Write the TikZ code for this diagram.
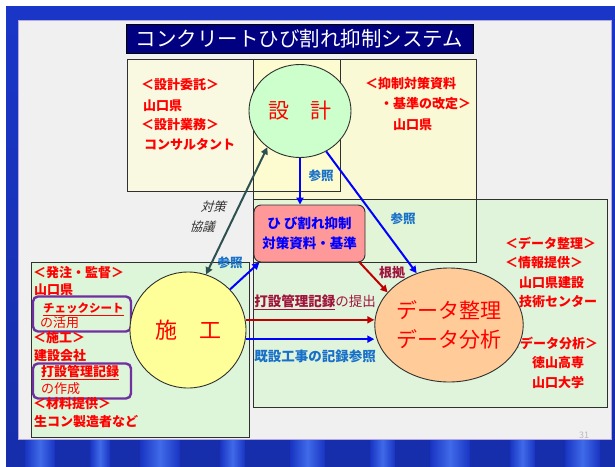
\documentclass[tikz,border=0pt]{standalone}
\usepackage{fontspec}
\setmainfont{Noto Sans CJK JP}
\newfontfamily\slantjp[FakeSlant=0.3]{Noto Sans CJK JP}
\usetikzlibrary{shapes.geometric,arrows.meta}
\definecolor{slidebg}{HTML}{F0F0F0}
\definecolor{frameblue}{HTML}{1A36C8}
\definecolor{framelight}{HTML}{4A7AF8}
\definecolor{navy}{HTML}{000080}
\definecolor{creamA}{HTML}{F9F9E2}
\definecolor{yellowB}{HTML}{FFFFC4}
\definecolor{greenbox}{HTML}{DDF5D8}
\definecolor{circG}{HTML}{CCFFCC}
\definecolor{circY}{HTML}{FFFF99}
\definecolor{circO}{HTML}{FFCC99}
\definecolor{pinkbox}{HTML}{FF9999}
\definecolor{txtred}{HTML}{FF0000}
\definecolor{refblue}{HTML}{1870C8}
\definecolor{darkred}{HTML}{C00000}
\definecolor{labred}{HTML}{A0143C}
\definecolor{slate}{HTML}{2F5050}
\definecolor{purp}{HTML}{7030A0}
\definecolor{edge}{HTML}{303030}
\definecolor{lav}{HTML}{B8A8E0}
\tikzset{
  redtxt/.style={font=\bfseries\fontsize{13}{13}\selectfont, text=txtred, anchor=west, inner sep=0},
  circ/.style={ellipse, draw=edge, line width=0.9pt, inner sep=0, text=txtred},
  reflab/.style={font=\bfseries\fontsize{12.5}{12.5}\selectfont, text=refblue, inner sep=0},
  slantlab/.style={font=\slantjp\fontsize{12.5}{12.5}\selectfont, text=edge, inner sep=0},
  bluearr/.style={draw=blue, line width=2pt, -{Triangle[length=7pt,width=7pt]}},
  redarr/.style={draw=darkred, line width=2pt, -{Triangle[length=7pt,width=7pt]}},
  slatearr/.style={draw=slate, line width=2pt, {Triangle[length=7pt,width=7pt]}-{Triangle[length=7pt,width=7pt]}},
  purpbox/.style={draw=purp, line width=2.4pt, rounded corners=5pt, minimum width=98pt, minimum height=35pt, inner sep=0},
  regionbox/.style={draw=edge, line width=0.8pt}
}
\begin{document}
\begin{tikzpicture}[x=1pt,y=-1pt]
\useasboundingbox (0,0) rectangle (615,466);
% slide frame
\fill[white] (0,0) rectangle (615,466);
\shade[top color=frameblue, bottom color=frameblue!85!black] (6,6) rectangle (615,466);
\foreach \sx/\sw in {25/30,90/20,140/40,220/25,290/35,370/25,430/40,510/25,565/35}{
  \shade[left color=frameblue, right color=frameblue, middle color=framelight, opacity=0.8] (\sx,440) rectangle (\sx+\sw,466);
}
\fill[slidebg] (18,20) rectangle (611,439);
\draw[lav, line width=0.8pt] (18,20) rectangle (611,439);
\node[text=gray!55, font=\fontsize{9}{9}\selectfont, inner sep=0] (pageno) at (584,435) {31};

% title
\node[fill=navy, draw=black, line width=0.8pt, minimum width=347pt, minimum height=29pt, inner sep=0, text=white, font=\fontsize{20.5}{20.5}\selectfont] (title) at (299.5,38.5) {コンクリートひび割れ抑制システム};

% region boxes
\fill[creamA] (127,59) rectangle (340,191);
\fill[yellowB, opacity=0.6] (253,59) rectangle (476,262);
\fill[greenbox, opacity=0.8] (253,199) rectangle (607,407);
\fill[greenbox] (31,262) rectangle (249,437);
\draw[regionbox] (127,59) rectangle (340,191);
\draw[regionbox] (253,59) rectangle (476,262);
\draw[regionbox] (253,199) rectangle (607,407);
\draw[regionbox] (31,262) rectangle (249,437);

% design box texts
\node[redtxt] (a1) at (141,85) {＜設計委託＞};
\node[redtxt] (a2) at (143,106) {山口県};
\node[redtxt] (a3) at (141,125) {＜設計業務＞};
\node[redtxt] (a4) at (144,144) {コンサルタント};
\node[redtxt] (b1) at (365,84) {＜抑制対策資料};
\node[redtxt] (b2) at (380,104) {・基準の改定＞};
\node[redtxt] (b3) at (393,125) {山口県};

% construction box texts
\node[purpbox] (pbox1) at (82,314) {};
\node[purpbox] (pbox2) at (82,381) {};
\node[redtxt] (d1) at (33,273) {＜発注・監督＞};
\node[redtxt] (d2) at (34,290) {山口県};
\node[redtxt, font=\bfseries\fontsize{11.5}{11.5}\selectfont] (d3) at (43,309) {\underline{チェックシート}};
\node[redtxt, font=\fontsize{13}{13}\selectfont] (d4) at (40,323) {の活用};
\node[redtxt] (d5) at (33,338) {＜施工＞};
\node[redtxt] (d6) at (34,356) {建設会社};
\node[redtxt] (d7) at (41,373) {\underline{打設管理記録}};
\node[redtxt, font=\fontsize{13}{13}\selectfont] (d8) at (41,389) {の作成};
\node[redtxt] (d9) at (33,404) {＜材料提供＞};
\node[redtxt] (d10) at (34,422) {生コン製造者など};

% data box texts
\node[redtxt] (c1) at (505,243) {＜データ整理＞};
\node[redtxt] (c2) at (505,263) {＜情報提供＞};
\node[redtxt] (c3) at (519,283) {山口県建設};
\node[redtxt] (c4) at (519,302) {技術センター};
\node[redtxt] (c5) at (507,343) {＜データ分析＞};
\node[redtxt] (c6) at (532,363) {徳山高専};
\node[redtxt] (c7) at (532,383) {山口大学};

% main nodes
\node[circ, fill=circG, minimum width=102pt, minimum height=93pt, font=\fontsize{21}{21}\selectfont] (sekkei) at (300,111) {設　計};
\node[circ, fill=circY, minimum width=116pt, minimum height=116pt, font=\fontsize{22}{22}\selectfont] (seko) at (188,330) {施　工};
\node[circ, fill=circO, minimum width=128pt, minimum height=114pt, align=center, font=\fontsize{21}{29}\selectfont] (data) at (449,325) {データ整理\\データ分析};
\node[rectangle, rounded corners=7pt, draw=edge, line width=0.9pt, fill=pinkbox, minimum width=111pt, minimum height=57pt, align=center, text=blue, font=\bfseries\fontsize{13.5}{20}\selectfont] (taisaku) at (309.5,233.5) {ひ び割れ抑制\\対策資料・基準};

% connectors
\draw[bluearr] (sekkei.south) -- (sekkei.south |- taisaku.north);
\node[reflab] (ref1) at (321,176) {参照};
\draw[bluearr] (sekkei.-57) -- (data.122);
\node[reflab] (ref2) at (403,219) {参照};
\draw[slatearr] (seko.72) -- (sekkei.228);
\node[slantlab] (kyogi1) at (213,207) {対策};
\node[slantlab] (kyogi2) at (202,227) {協議};
\draw[bluearr] (seko.44) -- (taisaku.210);
\node[reflab] (ref3) at (230,263) {参照};
\draw[redarr] (taisaku.-30) -- (data.152);
\node[font=\bfseries\fontsize{13}{13}\selectfont, text=labred, inner sep=0] (konkyo) at (392,273) {根拠};
\draw[redarr] (seko.10) -- (seko.10 -| data.west);
\draw[bluearr] (seko.-9) -- (seko.-9 -| data.west);
\node[font=\fontsize{13.5}{13.5}\selectfont, text=labred, inner sep=0] (teishutsu) at (315,302) {{\bfseries\underline{打設管理記録}}の提出};
\node[font=\bfseries\fontsize{13.5}{13.5}\selectfont, text=refblue, inner sep=0] (sansho) at (315,356) {既設工事の記録参照};
\end{tikzpicture}
\end{document}
